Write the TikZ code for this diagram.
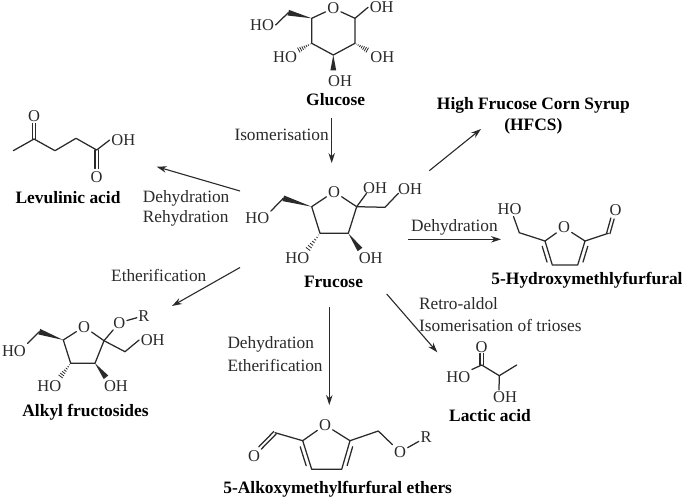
\documentclass[tikz,border=0pt]{standalone}
\usepackage{fontspec}
\setmainfont{Liberation Serif}
\usetikzlibrary{calc,arrows.meta}
\definecolor{ink}{HTML}{2A2A2A}
\tikzset{
  bond/.style={draw=ink,line width=1.25pt,line cap=round,line join=round},
  rxn/.style={draw=ink,line width=1.1pt,-{Stealth[length=10pt,width=6.5pt]}},
  atom/.style={text=ink,inner sep=1.5pt,font=\fontsize{16.5}{18}\selectfont},
  lbl/.style={text=ink,inner sep=0pt,font=\fontsize{17.3}{18}\selectfont},
  molname/.style={text=black,inner sep=0pt,align=center,font=\fontsize{17.4}{20.5}\selectfont\bfseries},
}
\newcommand{\wdg}[2]{\fill[ink] (#1) -- ($(#2)!2.9pt!90:(#1)$) -- ($(#2)!2.9pt!-90:(#1)$) -- cycle;}
\newcommand{\hsh}[2]{\foreach \pp/\ww in {0.1/0.3,0.24/0.7,0.38/1.1,0.52/1.5,0.66/1.9,0.8/2.3,0.94/2.7}{
  \draw[ink,line width=0.8pt] ($(#1)!\pp!(#2)!\ww pt!90:(#2)$) -- ($(#1)!\pp!(#2)!\ww pt!-90:(#2)$);}}
\newcommand{\dbl}[2]{\draw[bond] ($(#1)!1.7pt!90:(#2)$) -- ($(#2)!1.7pt!-90:(#1)$);
  \draw[bond] ($(#1)!1.7pt!-90:(#2)$) -- ($(#2)!1.7pt!90:(#1)$);}
\newcommand{\inr}[3]{\draw[bond] ($(#1)!0.17!(#2)!4.2pt!#3:(#2)$) -- ($(#1)!0.83!(#2)!4.2pt!#3:(#2)$);}
\begin{document}
\begin{tikzpicture}[x=1pt,y=-1pt]
\useasboundingbox (0,0) rectangle (685,500);
\fill[white] (0,0) rectangle (685,500);

% ---- Glucose
\coordinate (g1) at (355,18.3);
\coordinate (g2) at (355,43.3);
\coordinate (g3) at (333.3,55);
\coordinate (g4) at (311.7,43.3);
\coordinate (g5) at (311.7,18.3);
\coordinate (g6) at (288.3,12.7);
\coordinate (gh4) at (298,50.5);
\coordinate (gh2) at (368,50.5);
\coordinate (gw3) at (333.3,70.5);
\node[atom] (gO) at (333.3,8.3) {O};
\node[atom] (gHO6) at (262,25) {HO};
\node[atom] (gOH1) at (381.7,7.3) {OH};
\node[atom] (gHO4) at (285,57) {HO};
\node[atom] (gOH2) at (382.3,57) {OH};
\node[atom] (gOH3) at (340,81) {OH};
\node[molname] (glucose) at (335.7,100) {Glucose};
\draw[bond] (g5) -- (gO) -- (g1) -- (g2) -- (g3) -- (g4) -- (g5);
\draw[bond] (g1) -- (gOH1.west);
\draw[bond] (g6) -- (gHO6.east);
\wdg{g5}{g6}
\hsh{g4}{gh4}
\hsh{g2}{gh2}
\wdg{g3}{gw3}

% ---- Frucose
\coordinate (f2) at (356.7,206.7);
\coordinate (f3) at (348.3,233.3);
\coordinate (f4) at (320,233.3);
\coordinate (f5) at (311.7,206.7);
\coordinate (f6) at (283.3,198.3);
\coordinate (f1) at (385,207.3);
\coordinate (fh4) at (307.3,250);
\coordinate (fw3) at (360,249.5);
\node[atom] (fO) at (334,191.7) {O};
\node[atom] (fHO6) at (257.3,218.3) {HO};
\node[atom] (fHO4) at (297.3,258.3) {HO};
\node[atom] (fOH3) at (370.7,258.3) {OH};
\node[atom] (fOH2) at (375,188.3) {OH};
\node[atom] (fOH1) at (410,189) {OH};
\node[molname] (frucose) at (333.5,281.7) {Frucose};
\draw[bond] (f5) -- (fO) -- (f2) -- (f3) -- (f4) -- (f5);
\draw[bond] (f2) -- ([xshift=5pt,yshift=2pt]fOH2.south west);
\draw[bond] (f2) -- (f1) -- ([xshift=2pt,yshift=3pt]fOH1.south west);
\draw[bond] (f6) -- (fHO6.north east);
\wdg{f5}{f6}
\hsh{f4}{fh4}
\wdg{f3}{fw3}

% ---- Alkyl fructosides
\coordinate (a2) at (104,340.7);
\coordinate (a3) at (95,363.3);
\coordinate (a4) at (70.7,363.3);
\coordinate (a5) at (63.3,340);
\coordinate (a6) at (39.3,331.7);
\coordinate (a1) at (125,351.7);
\coordinate (ah4) at (60,377.3);
\coordinate (aw3) at (106,377.3);
\node[atom] (aO) at (84,326.7) {O};
\node[atom] (aOR) at (119.3,322.7) {O};
\node[atom] (aR) at (144,315.7) {R};
\node[atom] (aHO6) at (14,350.7) {HO};
\node[atom] (aHO4) at (49.3,386) {HO};
\node[atom] (aOH3) at (116,386) {OH};
\node[atom] (aOH1) at (152.7,340) {OH};
\node[molname] (alkyl) at (85.5,412.7) {Alkyl fructosides};
\draw[bond] (a5) -- (aO) -- (a2) -- (a3) -- (a4) -- (a5);
\draw[bond] (a2) -- (aOR);
\draw[bond] (aOR) -- (aR);
\draw[bond] (a2) -- (a1) -- (aOH1.west);
\draw[bond] (a6) -- (aHO6.north east);
\wdg{a5}{a6}
\hsh{a4}{ah4}
\wdg{a3}{aw3}

% ---- Levulinic acid
\coordinate (l1) at (13.3,150.7);
\coordinate (l2) at (34,139);
\coordinate (l3) at (55,150.7);
\coordinate (l4) at (76,138.3);
\coordinate (l5) at (96.7,150);
\coordinate (l2o) at (34,123.5);
\coordinate (l5o) at (96.7,168.5);
\node[atom] (lO1) at (34,116) {O};
\node[atom] (lO2) at (96.7,176.7) {O};
\node[atom] (lOH) at (123.3,140) {OH};
\node[molname] (levulinic) at (68,197.3) {Levulinic acid};
\draw[bond] (l1) -- (l2) -- (l3) -- (l4) -- (l5) -- (lOH.west);
\dbl{l2}{l2o}
\dbl{l5}{l5o}

% ---- HMF
\coordinate (h2) at (545,241);
\coordinate (h3) at (552.3,265);
\coordinate (h4) at (577.7,265);
\coordinate (h5) at (585,241);
\coordinate (h6) at (519.3,232.7);
\coordinate (h7) at (608.3,233.3);
\coordinate (h7o) at (612.5,218.5);
\node[atom] (hO) at (564,227.5) {O};
\node[atom] (hHO) at (509.5,209.3) {HO};
\node[atom] (hCO) at (615.5,210.5) {O};
\node[molname] (hmf) at (587,280) {5-Hydroxymethlyfurfural};
\draw[bond] (h2) -- (hO) -- (h5) -- (h4) -- (h3) -- (h2);
\draw[bond] (h2) -- (h6) -- ([xshift=4pt]hHO.south);
\draw[bond] (h5) -- (h7);
\dbl{h7}{h7o}
\inr{h2}{h3}{-90}
\inr{h5}{h4}{90}

% ---- 5-Alkoxymethylfurfural ethers
\coordinate (e2) at (302.7,440.7);
\coordinate (e3) at (311.7,469.3);
\coordinate (e4) at (341.7,469.3);
\coordinate (e5) at (350,440.7);
\coordinate (e6) at (378.3,431);
\coordinate (e7) at (275,432.7);
\coordinate (e7o) at (260,448);
\node[atom] (eO) at (325,425) {O};
\node[atom] (eCO) at (254,456) {O};
\node[atom] (eOR) at (400,452) {O};
\node[atom] (eR) at (426,437.3) {R};
\node[molname] (ethers) at (337.7,489) {5-Alkoxymethylfurfural ethers};
\draw[bond] (e2) -- (eO) -- (e5) -- (e4) -- (e3) -- (e2);
\draw[bond] (e2) -- (e7);
\draw[bond] (e5) -- (e6) -- (eOR);
\draw[bond] (eOR) -- (eR);
\dbl{e7}{e7o}
\inr{e2}{e3}{-90}
\inr{e5}{e4}{90}

% ---- Lactic acid
\coordinate (c1) at (481.7,365);
\coordinate (c2) at (499.3,375.7);
\coordinate (c3) at (516.7,365);
\coordinate (c1o) at (481.7,353.5);
\node[atom] (cO) at (481.7,346.7) {O};
\node[atom] (cHO) at (458.3,376.7) {HO};
\node[atom] (cOH) at (505,397.3) {OH};
\node[molname] (lactic) at (490,416) {Lactic acid};
\draw[bond] (cHO.north east) -- (c1) -- (c2) -- (c3);
\draw[bond] (c2) -- ([xshift=-6pt]cOH.north);
\dbl{c1}{c1o}

% ---- High Frucose Corn Syrup
\node[molname] (hfcs) at (533.4,116) {High Frucose Corn Syrup\\(HFCS)};

% ---- reaction arrows
\coordinate (rA) at (331.7,118);
\coordinate (rB) at (331.7,163);
\coordinate (rC) at (240,191);
\coordinate (rD) at (156.7,166.7);
\coordinate (rE) at (429.3,170.7);
\coordinate (rF) at (481,129);
\coordinate (rG) at (408.3,239.3);
\coordinate (rH) at (501,239.3);
\coordinate (rI) at (240,267.5);
\coordinate (rJ) at (172,306);
\coordinate (rK) at (329.3,307.3);
\coordinate (rL) at (329.3,405);
\coordinate (rM) at (386.7,294);
\coordinate (rN) at (437.3,352.3);
\draw[rxn] (rA) -- (rB);
\draw[rxn] (rC) -- (rD);
\draw[rxn] (rE) -- (rF);
\draw[rxn] (rG) -- (rH);
\draw[rxn] (rI) -- (rJ);
\draw[rxn] (rK) -- (rL);
\draw[rxn] (rM) -- (rN);

% ---- reaction labels
\node[lbl,anchor=west] (t1) at (234.3,135) {Isomerisation};
\node[lbl,anchor=west] (t2) at (142.7,198.3) {Dehydration};
\node[lbl,anchor=west] (t3) at (142.7,218.3) {Rehydration};
\node[lbl,anchor=west] (t4) at (111,275) {Etherification};
\node[lbl,anchor=west] (t5) at (411,227.3) {Dehydration};
\node[lbl,anchor=west] (t6) at (419,304) {Retro-aldol};
\node[lbl,anchor=west] (t7) at (419,325) {Isomerisation of trioses};
\node[lbl,anchor=west] (t8) at (227.3,344.3) {Dehydration};
\node[lbl,anchor=west] (t9) at (227.3,365) {Etherification};
\end{tikzpicture}
\end{document}
